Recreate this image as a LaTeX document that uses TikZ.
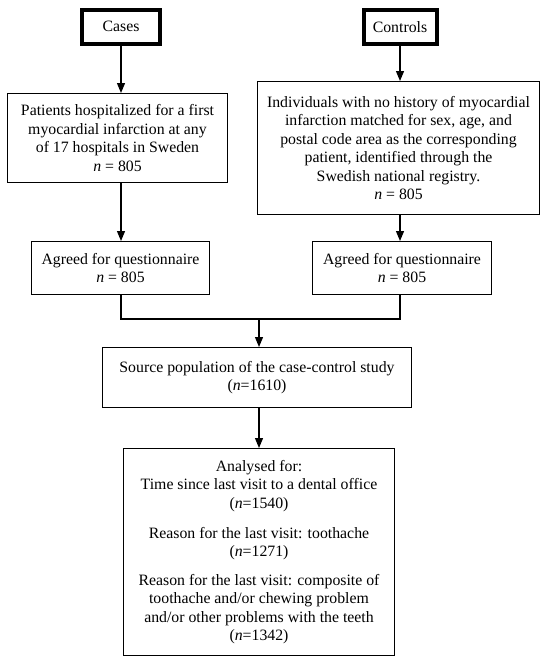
\documentclass[tikz,border=0pt]{standalone}
\usepackage{fontspec}
\setmainfont{Liberation Serif}
\usetikzlibrary{arrows.meta}
\begin{document}
\begin{tikzpicture}[x=1pt,y=-1pt,
  every node/.style={font=\fontsize{15.8}{18.4}\selectfont, align=center, inner sep=0pt},
  headbox/.style={draw, line width=4pt, minimum width=#1, minimum height=34pt},
  thinbox/.style={draw, line width=1.2pt},
  conn/.style={line width=1.2pt},
  arr/.style={conn, -{Triangle[width=8pt,length=10pt]}}]
\useasboundingbox (0,0) rectangle (550,664);
\node[headbox=78pt] (cases) at (121,26.5) {Cases};
\node[headbox=73pt] (controls) at (400,27) {Controls};
\node[thinbox, minimum width=219.8pt, minimum height=88.8pt] (patients) at (117.5,138)
  {Patients hospitalized for a first\\ myocardial infarction at any\\ of 17 hospitals in Sweden\\ \textit{n} = 805};
\node[thinbox, minimum width=281.8pt, minimum height=132.8pt] (individuals) at (398.5,148)
  {Individuals with no history of myocardial\\ infarction matched for sex, age, and\\ postal code area as the corresponding\\ patient, identified through the\\ Swedish national registry.\\ \textit{n} = 805};
\node[thinbox, minimum width=177.8pt, minimum height=52.8pt] (agreedL) at (120.5,268)
  {Agreed for questionnaire\\ \textit{n} = 805};
\node[thinbox, minimum width=178.8pt, minimum height=52.8pt] (agreedR) at (402,268)
  {Agreed for questionnaire\\ \textit{n} = 805};
\coordinate (merge) at (259,319);
\node[thinbox, minimum width=308.8pt, minimum height=59.8pt] (source) at (257,377.5)
  {Source population of the case-control study\\ (\textit{n}=1610)};
\node[thinbox, minimum width=270.8pt, minimum height=206.8pt] (analysed) at (259,552)
  {Analysed for:\\ Time since last visit to a dental office\\ (\textit{n}=1540)\\[12pt]
   Reason for the last visit: toothache\\ (\textit{n}=1271)\\[10pt]
   Reason for the last visit: composite of\\ toothache and/or chewing problem\\ and/or other problems with the teeth\\ (\textit{n}=1342)};
\draw[arr] (cases.south) -- (cases.south |- patients.north);
\draw[arr] (controls.south) -- (controls.south |- individuals.north);
\draw[arr] (patients.south -| cases) -- (agreedL.north -| cases);
\draw[arr] (individuals.south -| controls) -- (agreedR.north -| controls);
\draw[conn] (agreedL.south -| cases) |- (merge) -| (agreedR.south -| controls);
\draw[arr] (merge) -- (source.north -| merge);
\draw[arr] (source.south -| merge) -- (analysed.north -| merge);
\end{tikzpicture}
\end{document}
